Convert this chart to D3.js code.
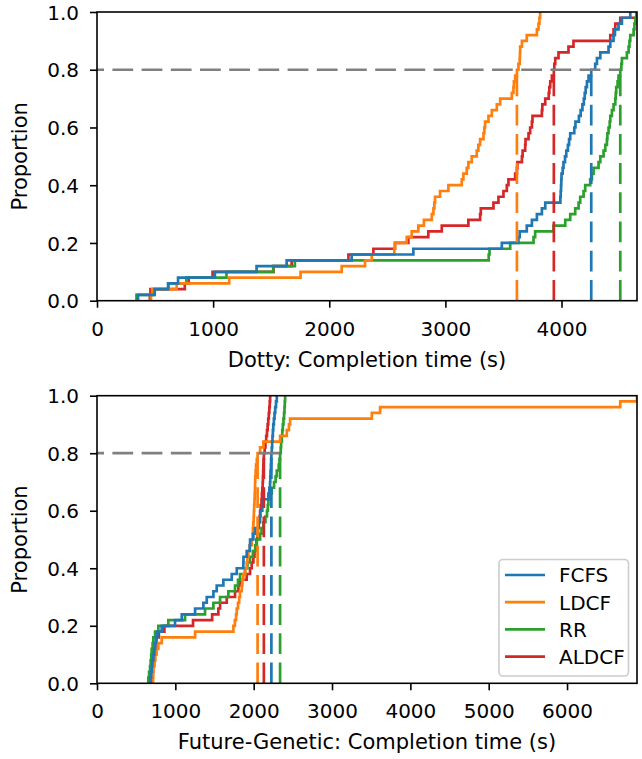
<!DOCTYPE html>
<html>
<head>
<meta charset="utf-8">
<script src="https://cdn.jsdelivr.net/npm/d3@7"></script>
<style>
  body { margin: 0; background: #fff; }
  svg { display: block; font-family: "DejaVu Sans", sans-serif; }
</style>
</head>
<body>
<div id="chart"></div>
<script>
// policy names and colours (legend order)
var policies = ["FCFS", "LDCF", "RR", "ALDCF"];
var colors = ["#1f77b4", "#ff7f0e", "#2ca02c", "#d62728"];

// Dotty completion times (s), 50 jobs per policy
var dottyFCFS = [353, 497, 612, 698, 1015, 1374, 1633, 2193, 2724, 3486,
  3629, 3640, 3701, 3745, 3788, 3831, 3860, 3990, 3993, 3996,
  3998, 4000, 4010, 4017, 4030, 4041, 4055, 4065, 4075, 4110,
  4120, 4150, 4165, 4180, 4192, 4200, 4208, 4219, 4233, 4256,
  4290, 4305, 4334, 4405, 4420, 4448, 4460, 4491, 4520, 4592];
var dottyLDCF = [465, 475, 686, 1138, 1753, 2107, 2308, 2366, 2560, 2566,
  2667, 2710, 2767, 2815, 2883, 2897, 2905, 2911, 2954, 3026,
  3141, 3155, 3184, 3198, 3227, 3270, 3284, 3299, 3328, 3335,
  3342, 3371, 3400, 3443, 3472, 3572, 3586, 3590, 3601, 3616,
  3629, 3640, 3642, 3644, 3659, 3701, 3788, 3802, 3810, 3816];
var dottyRR = [340, 490, 615, 770, 1115, 1517, 1704, 3373, 3380, 3558,
  3759, 3773, 3931, 4032, 4075, 4118, 4147, 4161, 4190, 4204,
  4247, 4262, 4276, 4319, 4334, 4362, 4377, 4391, 4395, 4405,
  4415, 4420, 4434, 4448, 4463, 4467, 4471, 4483, 4491, 4506,
  4515, 4520, 4563, 4578, 4585, 4592, 4621, 4628, 4635, 4644];
var dottyALDCF = [455, 460, 756, 790, 995, 1520, 1676, 2165, 2380, 2566,
  2681, 2853, 2969, 3198, 3299, 3305, 3414, 3457, 3500, 3529,
  3543, 3601, 3616, 3620, 3659, 3665, 3687, 3690, 3716, 3730,
  3745, 3750, 3831, 3835, 3860, 3890, 3895, 3903, 3917, 3934,
  3938, 3946, 3974, 4060, 4103, 4420, 4448, 4463, 4506, 4720];

// Future-Genetic completion times (s)
var geneticFCFS = [680, 690, 698, 705, 719, 730, 741, 752, 770, 826,
  996, 1082, 1252, 1358, 1401, 1486, 1528, 1613, 1720, 1784,
  1868, 1870, 1911, 1950, 1954, 1996, 2018, 2060, 2082, 2085,
  2110, 2124, 2188, 2200, 2209, 2212, 2215, 2220, 2223, 2226,
  2231, 2236, 2240, 2245, 2250, 2258, 2266, 2275, 2285, 2295];
var geneticLDCF = [715, 718, 720, 735, 745, 760, 783, 826, 1252, 1741,
  1760, 1775, 1784, 1800, 1815, 1826, 1848, 1855, 1868, 1890,
  1911, 1920, 1932, 1950, 1976, 1985, 1990, 1996, 2000, 2003,
  2006, 2010, 2013, 2016, 2018, 2020, 2025, 2030, 2040, 2050,
  2082, 2124, 2337, 2423, 2450, 2465, 3508, 3614, 6679, 6893];
var geneticRR = [655, 665, 677, 685, 692, 698, 710, 719, 741, 783,
  911, 1124, 1379, 1486, 1571, 1677, 1762, 1800, 1826, 1890,
  1920, 1954, 1990, 2020, 2040, 2082, 2100, 2124, 2150, 2170,
  2180, 2188, 2210, 2231, 2260, 2280, 2295, 2320, 2330, 2337,
  2345, 2350, 2359, 2365, 2372, 2380, 2388, 2393, 2397, 2401];
var geneticALDCF = [700, 710, 715, 722, 730, 738, 745, 760, 790, 860,
  1226, 1470, 1549, 1571, 1656, 1762, 1805, 1826, 1911, 1954,
  1975, 1996, 2010, 2025, 2035, 2045, 2055, 2065, 2075, 2082,
  2090, 2100, 2105, 2110, 2115, 2118, 2121, 2124, 2127, 2130,
  2140, 2150, 2160, 2170, 2178, 2186, 2193, 2200, 2205, 2210];

var yTicks = [0, 0.2, 0.4, 0.6, 0.8, 1.0];
var dottyTicks = [0, 1000, 2000, 3000, 4000];
var geneticTicks = [0, 1000, 2000, 3000, 4000, 5000, 6000];
var threshold = 0.8;

var w = 642, h = 759;
var left = 97, right = 637;
var fontSize = 20;
var labelSize = 21;

var svg = d3.select("#chart")
  .append("svg")
  .attr("width", w)
  .attr("height", h);

// draw order: ALDCF, RR, LDCF, FCFS (FCFS ends on top)
var drawOrder = [3, 2, 1, 0];

function drawPanel(id, series, xMax, ticks, label, top, bottom, showLegend) {
  var xScale = d3.scaleLinear().domain([0, xMax]).range([left, right]);
  var yScale = d3.scaleLinear().domain([0, 1]).range([bottom, top]);

  svg.append("clipPath")
    .attr("id", "clip" + id)
    .append("rect")
    .attr("x", left)
    .attr("y", top - 2)
    .attr("width", right - left)
    .attr("height", bottom - top + 4);

  var g = svg.append("g").attr("clip-path", "url(#clip" + id + ")");

  var line = d3.line()
    .x(function(d) { return xScale(d[0]); })
    .y(function(d) { return yScale(d[1]); })
    .curve(d3.curveStepAfter);

  var p80 = [];
  drawOrder.forEach(function(i) {
    var times = series[i].slice().sort(d3.ascending);
    var n = times.length;
    var pts = [[times[0], 0]];
    times.forEach(function(t, j) { pts.push([t, (j + 1) / n]); });
    g.append("path")
      .datum(pts)
      .attr("fill", "none")
      .attr("stroke", colors[i])
      .attr("stroke-width", 2.7)
      .attr("d", line);
    p80[i] = times[Math.ceil(threshold * n) - 1];
  });

  // 80th percentile markers
  drawOrder.forEach(function(i) {
    g.append("line")
      .attr("x1", xScale(p80[i]))
      .attr("x2", xScale(p80[i]))
      .attr("y1", yScale(0))
      .attr("y2", yScale(threshold))
      .attr("stroke", colors[i])
      .attr("stroke-width", 2.7)
      .attr("stroke-dasharray", "20.8,8.4");
  });

  g.append("line")
    .attr("x1", xScale(0))
    .attr("x2", xScale(d3.max(p80)))
    .attr("y1", yScale(threshold))
    .attr("y2", yScale(threshold))
    .attr("stroke", "#808080")
    .attr("stroke-width", 2.7)
    .attr("stroke-dasharray", "20.8,8.4")
    .attr("stroke-dashoffset", 13.8);

  // axes
  var xAxis = svg.append("g")
    .attr("transform", "translate(0," + bottom + ")")
    .call(d3.axisBottom(xScale).tickValues(ticks).tickSize(7).tickFormat(d3.format("d")));
  xAxis.select(".domain").remove();
  xAxis.selectAll(".tick line").attr("stroke-width", 1.6);
  xAxis.selectAll(".tick text")
    .attr("y", 35)
    .attr("dy", null)
    .attr("font-size", fontSize)
    .attr("font-family", "DejaVu Sans")
    .attr("fill", "#000");

  var yAxis = svg.append("g")
    .attr("transform", "translate(" + left + ",0)")
    .call(d3.axisLeft(yScale).tickValues(yTicks).tickSize(7).tickFormat(d3.format(".1f")));
  yAxis.select(".domain").remove();
  yAxis.selectAll(".tick line").attr("stroke-width", 1.6);
  yAxis.selectAll(".tick text")
    .attr("x", -18)
    .attr("dy", "0.36em")
    .attr("font-size", fontSize)
    .attr("font-family", "DejaVu Sans")
    .attr("fill", "#000");

  svg.append("rect")
    .attr("x", left)
    .attr("y", top)
    .attr("width", right - left)
    .attr("height", bottom - top)
    .attr("fill", "none")
    .attr("stroke", "#000")
    .attr("stroke-width", 1.6);

  // x-axis label
  svg.append("text")
    .text(label)
    .attr("x", (left + right) / 2)
    .attr("y", bottom + 66)
    .attr("text-anchor", "middle")
    .attr("font-size", labelSize);

  // y-axis label
  svg.append("text")
    .text("Proportion")
    .attr("transform", "translate(27," + ((top + bottom) / 2) + ") rotate(-90)")
    .attr("text-anchor", "middle")
    .attr("font-size", labelSize);

  if (showLegend) {
    var lg = svg.append("g");
    lg.append("rect")
      .attr("x", 499)
      .attr("y", 559.5)
      .attr("width", 129.5)
      .attr("height", 116.5)
      .attr("rx", 4)
      .attr("fill", "#fff")
      .attr("fill-opacity", 0.8)
      .attr("stroke", "#cccccc")
      .attr("stroke-width", 1.6);
    policies.forEach(function(name, i) {
      var y = 575 + i * 27.2;
      lg.append("line")
        .attr("x1", 505).attr("x2", 545)
        .attr("y1", y).attr("y2", y)
        .attr("stroke", colors[i])
        .attr("stroke-width", 2.7);
      lg.append("text")
        .text(name)
        .attr("x", 559)
        .attr("y", y + 7.3)
        .attr("font-size", fontSize);
    });
  }
}

drawPanel("a", [dottyFCFS, dottyLDCF, dottyRR, dottyALDCF], 4650, dottyTicks,
  "Dotty: Completion time (s)", 12, 300.7, false);
drawPanel("b", [geneticFCFS, geneticLDCF, geneticRR, geneticALDCF], 6893, geneticTicks,
  "Future-Genetic: Completion time (s)", 395.7, 683.3, true);
</script>
</body>
</html>
